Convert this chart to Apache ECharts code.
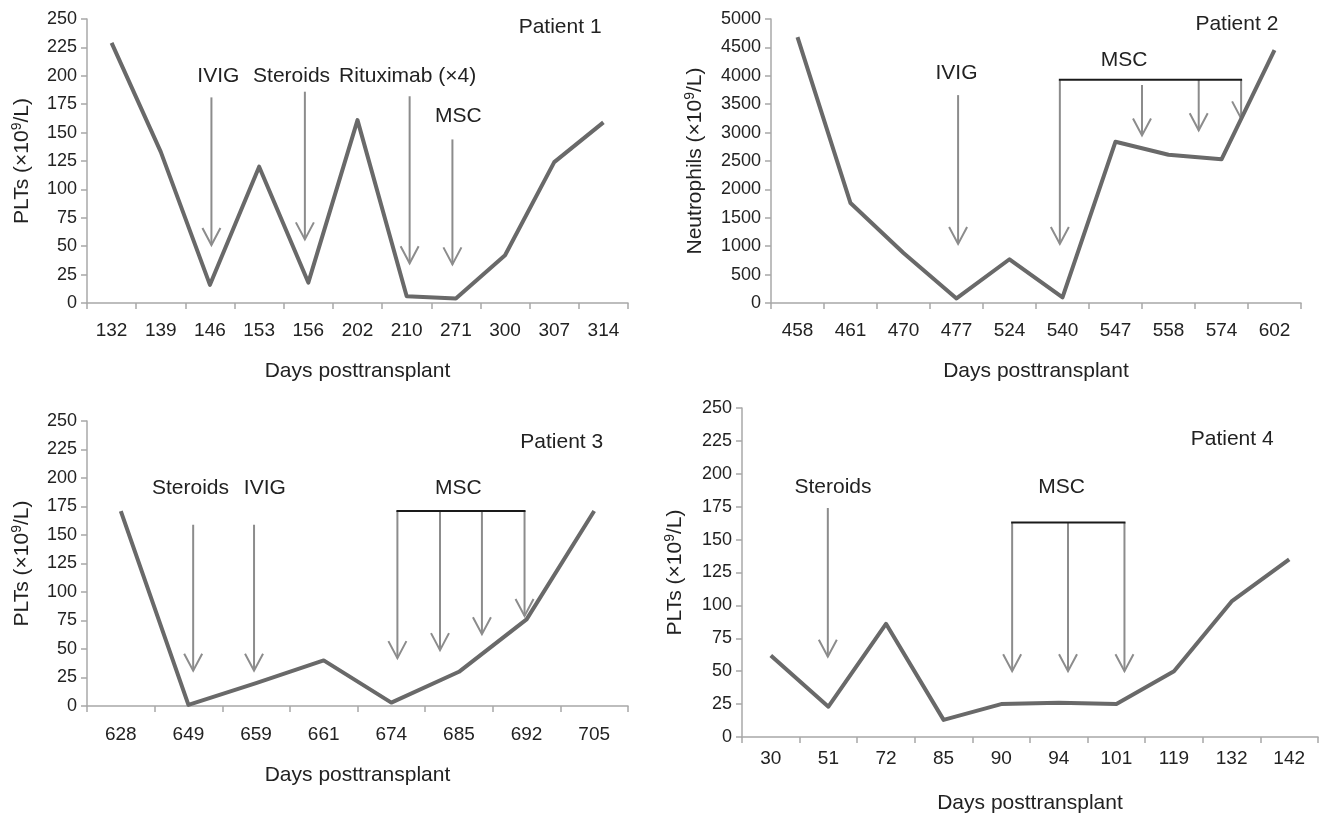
<!DOCTYPE html>
<html><head><meta charset="utf-8">
<script src="https://cdn.jsdelivr.net/npm/echarts@6/dist/echarts.min.js"></script>
<style>html,body{margin:0;padding:0;background:#fff}#c{width:1322px;height:816px}</style>
</head><body><div id="c"></div>
<script>
// ---------- DATA ----------
// Patient 1 (platelets)
const p1Days = ['132','139','146','153','156','202','210','271','300','307','314'];
const p1Values = [229,133,16,120,18,161,6,4,42,124,159];
// arrows: [x in category-band units (band i centre = i+0.5), top value, tip value]
const p1Arrows = [[2.53,181,51],[4.43,186,56],[6.56,182,35],[7.43,144,34]];
const p1Brackets = [];
const p1Labels = [['IVIG',2.67,200],['Steroids',4.16,200],['Rituximab (×4)',6.52,200],['MSC',7.55,164],['Patient 1',9.62,243]];

// Patient 2 (neutrophils)
const p2Days = ['458','461','470','477','524','540','547','558','574','602'];
const p2Values = [4680,1760,880,80,770,100,2840,2610,2530,4450];
const p2Arrows = [[3.53,3660,1040],[5.45,3930,1040],[7.0,3840,2950],[8.07,3930,3040],[8.87,3930,3250]];
const p2Brackets = [[5.45,8.87,3930]];
const p2Labels = [['IVIG',3.5,4040],['MSC',6.66,4280],['Patient 2',8.79,4900]];

// Patient 3 (platelets)
const p3Days = ['628','649','659','661','674','685','692','705'];
const p3Values = [171,1,20,40,3,30,76,171];
const p3Arrows = [[1.57,159,31],[2.47,159,31],[4.59,171,42],[5.22,171,49],[5.84,171,63],[6.47,171,79]];
const p3Brackets = [[4.59,6.47,171]];
const p3Labels = [['Steroids',1.53,191],['IVIG',2.63,191],['MSC',5.49,191],['Patient 3',7.02,231]];

// Patient 4 (platelets)
const p4Days = ['30','51','72','85','90','94','101','119','132','142'];
const p4Values = [62,23,86,13,25,26,25,50,103,135];
const p4Arrows = [[1.49,174,61],[4.69,163,50],[5.66,163,50],[6.64,163,50]];
const p4Brackets = [[4.69,6.64,163]];
const p4Labels = [['Steroids',1.58,190],['MSC',5.55,190],['Patient 4',8.51,226]];

const yNamePLT = 'PLTs (×10{s|9}/L)';
const yNameNeut = 'Neutrophils (×10{s|9}/L)';
const xName = 'Days posttransplant';

// ---------- LAYOUT / STYLE ----------
const FONT = '"Liberation Sans", Arial, sans-serif';
const TXT = '#222';
const AX = '#a8a8a8';
const panels = [
  {days:p1Days, vals:p1Values, arrows:p1Arrows, brackets:p1Brackets, labels:p1Labels, ymax:250, yint:25, yname:yNamePLT,
   grid:{left:87, top:19, width:541, height:284}, yGap:53, xGap:58, xMargin:18},
  {days:p2Days, vals:p2Values, arrows:p2Arrows, brackets:p2Brackets, labels:p2Labels, ymax:5000, yint:500, yname:yNameNeut,
   grid:{left:771, top:19, width:530, height:284}, yGap:64, xGap:58, xMargin:18},
  {days:p3Days, vals:p3Values, arrows:p3Arrows, brackets:p3Brackets, labels:p3Labels, ymax:250, yint:25, yname:yNamePLT,
   grid:{left:87, top:421, width:541, height:285}, yGap:53, xGap:59, xMargin:19},
  {days:p4Days, vals:p4Values, arrows:p4Arrows, brackets:p4Brackets, labels:p4Labels, ymax:250, yint:25, yname:yNamePLT,
   grid:{left:742, top:408, width:576, height:329}, yGap:55, xGap:56, xMargin:12}
];

function arrowRender(params, api){
  const a = api.coord([api.value(0), api.value(1)]);
  const b = api.coord([api.value(0), api.value(2)]);
  const st = {stroke:'#8c8c8c', lineWidth:2, fill:null};
  return {type:'group', children:[
    {type:'line', shape:{x1:a[0], y1:a[1], x2:b[0], y2:b[1]}, style:st},
    {type:'polyline', shape:{points:[[b[0]-9,b[1]-17],[b[0],b[1]],[b[0]+9,b[1]-17]]}, style:st}
  ]};
}
function bracketRender(params, api){
  const a = api.coord([api.value(0), api.value(2)]);
  const b = api.coord([api.value(1), api.value(2)]);
  return {type:'line', shape:{x1:a[0]-1, y1:a[1], x2:b[0]+1, y2:b[1]}, style:{stroke:'#1a1a1a', lineWidth:2}};
}
function makeLabelRender(list){
  return function(params, api){
    const p = api.coord([api.value(0), api.value(1)]);
    return {type:'text', x:p[0], y:p[1], style:{text:list[params.dataIndex][0], fill:TXT, font:'21px ' + FONT, align:'center', verticalAlign:'middle'}};
  };
}

const option = {animation:false, backgroundColor:'#fff', grid:[], xAxis:[], yAxis:[], series:[]};
panels.forEach((p, i) => {
  option.grid.push(Object.assign({outerBoundsMode:'none', containLabel:false}, p.grid));
  option.xAxis.push({
    type:'category', gridIndex:i, data:p.days, boundaryGap:true,
    axisLine:{show:true, onZero:false, lineStyle:{color:AX, width:1.5}},
    axisTick:{show:true, length:6, alignWithLabel:false, interval:0, lineStyle:{color:AX, width:1.5}},
    axisLabel:{show:true, interval:0, color:TXT, fontSize:19, fontFamily:FONT, margin:p.xMargin},
    splitLine:{show:false},
    name:xName, nameLocation:'middle', nameGap:p.xGap,
    nameTextStyle:{color:TXT, fontSize:21, fontFamily:FONT}
  });
  option.xAxis.push({type:'value', gridIndex:i, min:0, max:p.days.length, show:false});
  option.yAxis.push({
    type:'value', gridIndex:i, min:0, max:p.ymax, interval:p.yint,
    axisLine:{show:true, lineStyle:{color:AX, width:1.5}},
    axisTick:{show:true, length:6, lineStyle:{color:AX, width:1.5}},
    axisLabel:{color:TXT, fontSize:18, fontFamily:FONT, margin:10, formatter:(v) => String(v)},
    splitLine:{show:false},
    name:p.yname, nameLocation:'middle', nameGap:p.yGap,
    nameTextStyle:{color:TXT, fontSize:21, fontFamily:FONT, lineHeight:24,
      rich:{s:{fontSize:14, fontFamily:FONT, color:TXT, verticalAlign:'top', lineHeight:14}}}
  });
  option.series.push({type:'line', xAxisIndex:2*i, yAxisIndex:i, data:p.vals, symbol:'none', silent:true, z:4,
    lineStyle:{color:'#696969', width:4, join:'round'}});
  option.series.push({type:'custom', xAxisIndex:2*i+1, yAxisIndex:i, data:p.arrows, renderItem:arrowRender, clip:false, silent:true, z:3,
    encode:{x:0, y:[1,2]}});
  option.series.push({type:'custom', xAxisIndex:2*i+1, yAxisIndex:i, data:p.brackets, renderItem:bracketRender, clip:false, silent:true, z:3,
    encode:{x:[0,1], y:2}});
  option.series.push({type:'custom', xAxisIndex:2*i+1, yAxisIndex:i, data:p.labels.map(l => [l[1], l[2]]), renderItem:makeLabelRender(p.labels), clip:false, silent:true, z:5,
    encode:{x:0, y:1}});
});

const chart = echarts.init(document.getElementById('c'), null, {renderer:'canvas'});
chart.setOption(option);
</script>
</body></html>
